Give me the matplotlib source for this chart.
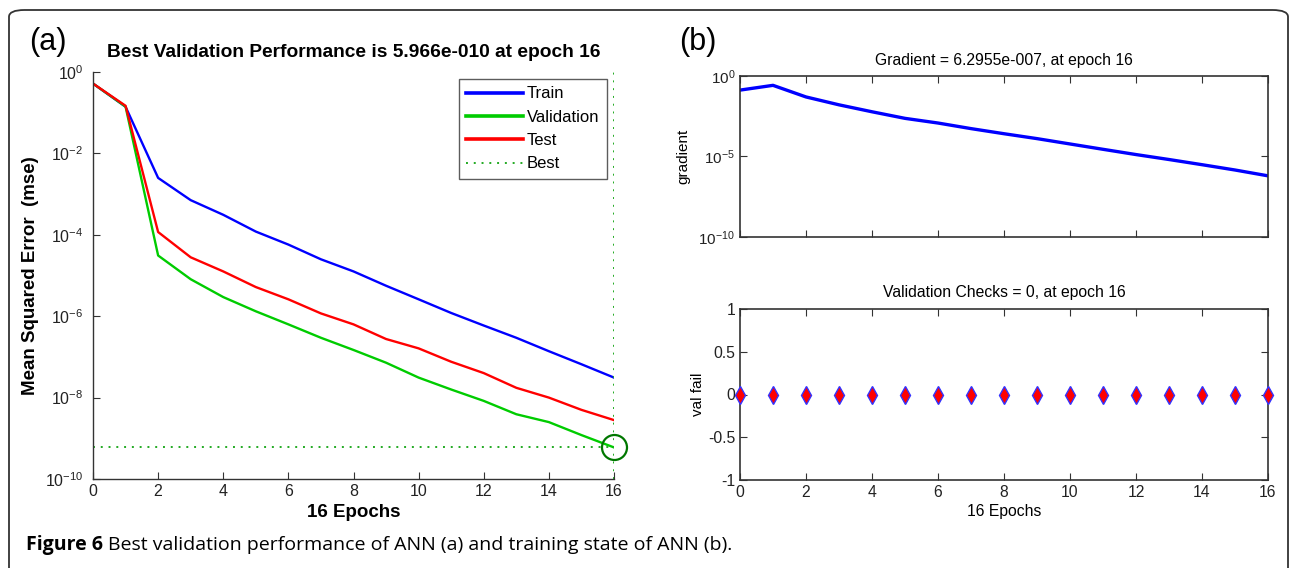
import matplotlib
matplotlib.use("Agg")
import matplotlib.pyplot as plt
from matplotlib.patches import FancyBboxPatch

plt.rcParams['font.family'] = ['Liberation Sans', 'DejaVu Sans']
plt.rcParams['mathtext.fontset'] = 'custom'
plt.rcParams['mathtext.rm'] = 'Liberation Sans'

# ---------------- data ----------------
epochs = list(range(17))
train_mse = [0.52, 0.14, 2.5e-3, 7.1e-4, 3.1e-4, 1.2e-4, 5.75e-5, 2.5e-5, 1.26e-5,
             5.6e-6, 2.6e-6, 1.2e-6, 5.9e-7, 2.95e-7, 1.38e-7, 6.6e-8, 3.1e-8]
val_mse = [0.52, 0.141, 3.1e-5, 8.1e-6, 2.95e-6, 1.32e-6, 6.3e-7, 2.95e-7, 1.48e-7,
           7.2e-8, 3.1e-8, 1.58e-8, 8.3e-9, 3.9e-9, 2.5e-9, 1.2e-9, 5.966e-10]
test_mse = [0.52, 0.148, 1.17e-4, 2.8e-5, 1.26e-5, 5.2e-6, 2.6e-6, 1.17e-6, 6.3e-7,
            2.75e-7, 1.62e-7, 7.6e-8, 4.0e-8, 1.74e-8, 1.0e-8, 5.0e-9, 2.8e-9]
best_epoch = 16
best_perf = 5.966e-10
gradient = [0.133, 0.263, 0.050, 0.0162, 6.0e-3, 2.34e-3, 1.2e-3, 5.4e-4, 2.6e-4,
            1.29e-4, 6.0e-5, 2.8e-5, 1.32e-5, 6.5e-6, 3.1e-6, 1.45e-6, 6.2955e-7]
val_fail = [0] * 17

left_yticks = [1e0, 1e-2, 1e-4, 1e-6, 1e-8, 1e-10]
left_yticklabels = [r'$\mathregular{10^{0}}$', r'$\mathregular{10^{-2}}$', r'$\mathregular{10^{-4}}$',
                    r'$\mathregular{10^{-6}}$', r'$\mathregular{10^{-8}}$', r'$\mathregular{10^{-10}}$']
grad_yticks = [1e0, 1e-5, 1e-10]
grad_yticklabels = [r'$\mathregular{10^{0}}$', r'$\mathregular{10^{-5}}$', r'$\mathregular{10^{-10}}$']
even_ticks = list(range(0, 17, 2))
vf_yticks = [-1, -0.5, 0, 0.5, 1]
vf_yticklabels = ['-1', '-0.5', '0', '0.5', '1']

W, H = 1292, 568
fig = plt.figure(figsize=(W / 100, H / 100), dpi=100)

def fx(px):
    return px / W

def fy(py):
    return 1 - py / H

# rounded frame
frame = FancyBboxPatch((fx(9), fy(600)), fx(1279), (600 - 10) / H,
                       boxstyle="round,pad=0,rounding_size=0.012",
                       transform=fig.transFigure, fill=False,
                       edgecolor='#333333', linewidth=1.3, clip_on=False)
fig.patches.append(frame)

axcol = '#333333'

# ---------------- panel (a) ----------------
ax = fig.add_axes([fx(93), fy(479), fx(614 - 93), (479 - 72) / H])
ax.semilogy(epochs, train_mse, color='#0000ff', lw=1.7, label='Train')
ax.semilogy(epochs, val_mse, color='#00cc00', lw=1.7, label='Validation')
ax.semilogy(epochs, test_mse, color='#ff0000', lw=1.7, label='Test')
ax.axhline(best_perf, color='#22aa22', ls=(0, (1, 3)), lw=1.4, label='Best')
ax.axvline(best_epoch, color='#22aa22', ls=(0, (1, 3)), lw=1.4)
ax.plot([best_epoch], [best_perf], marker='o', ms=18, mfc='none', mec='#007700',
        mew=1.6, clip_on=False)
ax.set_xlim(0, 16)
ax.set_ylim(1e-10, 1e0)
ax.set_yticks(left_yticks)
ax.set_yticklabels(left_yticklabels)
ax.minorticks_off()
ax.set_xticks(even_ticks)
for s in ['top', 'right']:
    ax.spines[s].set_visible(False)
for s in ['left', 'bottom']:
    ax.spines[s].set_color(axcol)
    ax.spines[s].set_linewidth(1.0)
ax.tick_params(direction='in', length=5, color=axcol, labelsize=11.5, labelcolor='#222222')
ax.tick_params(axis='y', pad=7)
ax.set_title('Best Validation Performance is 5.966e-010 at epoch 16',
             fontsize=13.8, fontweight='bold', pad=11)
ax.set_xlabel('16 Epochs', fontsize=13.5, fontweight='bold', labelpad=4)
ax.set_ylabel('Mean Squared Error  (mse)', fontsize=13.5, fontweight='bold', labelpad=4)
leg = ax.legend(loc='upper right', bbox_to_anchor=(0.9866, 0.983), borderaxespad=0,
                fontsize=12, frameon=True, fancybox=False, edgecolor='#333333',
                handlelength=3.4, handletextpad=0.25, borderpad=0.45, labelspacing=0.5)
leg.get_frame().set_linewidth(1.0)
for ln in leg.get_lines()[:3]:
    ln.set_linewidth(2.6)

# ---------------- panel (b) top ----------------
ax2 = fig.add_axes([fx(740), fy(237), fx(1268 - 740), (237 - 76) / H])
ax2.semilogy(epochs, gradient, color='#0000ff', lw=2.4)
ax2.set_xlim(0, 16)
ax2.set_ylim(1e-10, 1e0)
ax2.set_yticks(grad_yticks)
ax2.set_yticklabels(grad_yticklabels)
ax2.minorticks_off()
ax2.set_xticks(even_ticks)
ax2.set_xticklabels([])
ax2.tick_params(direction='in', length=5, color=axcol, labelsize=11,
                top=True, right=True, labelcolor='#222222')
for s in ax2.spines.values():
    s.set_color(axcol)
    s.set_linewidth(1.2)
ax2.set_title('Gradient = 6.2955e-007, at epoch 16', fontsize=11.3, pad=8)
ax2.set_ylabel('gradient', fontsize=11, labelpad=6)

# ---------------- panel (b) bottom ----------------
ax3 = fig.add_axes([fx(740), fy(480), fx(1268 - 740), (480 - 309) / H])
ax3.plot(epochs, val_fail, ls='none', marker='d', ms=9, mfc='#ff0000', mec='#3333ff',
         mew=1.0, clip_on=False, zorder=5)
ax3.set_xlim(0, 16)
ax3.set_ylim(-1, 1)
ax3.set_xticks(even_ticks)
ax3.set_yticks(vf_yticks)
ax3.set_yticklabels(vf_yticklabels)
ax3.tick_params(direction='in', length=5, color=axcol, labelsize=11.3,
                top=True, right=True, labelcolor='#222222')
for s in ax3.spines.values():
    s.set_color(axcol)
    s.set_linewidth(1.2)
ax3.set_title('Validation Checks = 0, at epoch 16', fontsize=11.3, pad=9)
ax3.set_xlabel('16 Epochs', fontsize=11.3, labelpad=3)
ax3.set_ylabel('val fail', fontsize=11, labelpad=2)

# panel labels
fig.text(fx(29), fy(42), '(a)', fontsize=22, va='center', ha='left')
fig.text(fx(679), fy(42), '(b)', fontsize=22, va='center', ha='left')

# caption
cap_font = ['Open Sans', 'DejaVu Sans']
t1 = fig.text(fx(26), fy(545), 'Figure 6', fontsize=14, fontweight='bold',
              family=cap_font, va='center', ha='left')
renderer = fig.canvas.get_renderer()
bb = t1.get_window_extent(renderer=renderer)
fig.text((bb.x1 + 5) / W, fy(545),
         'Best validation performance of ANN (a) and training state of ANN (b).',
         fontsize=14, family=cap_font, va='center', ha='left')

fig.savefig('out.png', dpi=100)
